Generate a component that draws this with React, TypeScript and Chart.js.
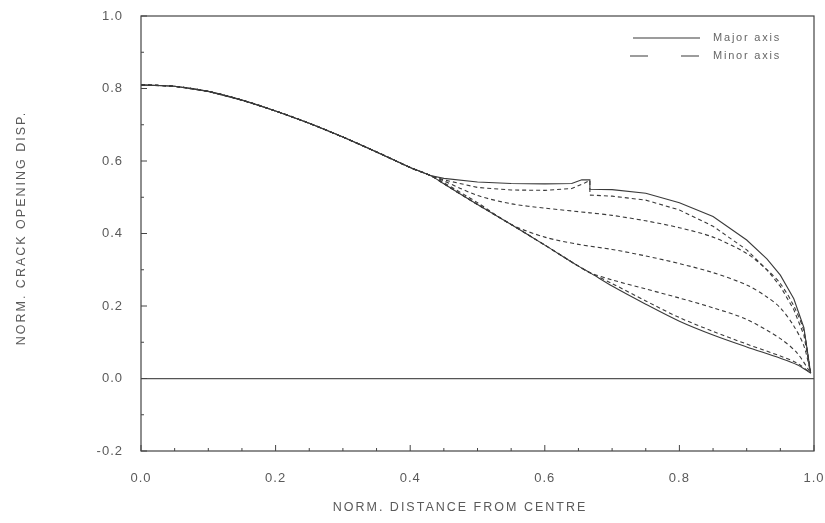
import React, { useEffect, useRef } from "react";
import { Chart, registerables } from "chart.js";

Chart.register(...registerables);

// Shared part of all profiles (centre region)
const commonX = [0, 0.05, 0.1, 0.15, 0.2, 0.25, 0.3, 0.35, 0.4];
const commonY = [0.81, 0.806, 0.792, 0.768, 0.738, 0.704, 0.666, 0.625, 0.582];

// Major axis – upper profile (solid, with step at 0.667)
const majorUpperX = [0.43, 0.45, 0.5, 0.55, 0.6, 0.64, 0.655, 0.667, 0.667, 0.7, 0.75, 0.8, 0.85, 0.9, 0.93, 0.95, 0.97, 0.985, 0.995];
const majorUpperY = [0.56, 0.552, 0.542, 0.538, 0.537, 0.538, 0.548, 0.548, 0.522, 0.521, 0.511, 0.485, 0.447, 0.382, 0.33, 0.285, 0.22, 0.14, 0.015];

// Minor axis – upper profile (dashed)
const minorUpperX = [0.43, 0.45, 0.5, 0.55, 0.6, 0.64, 0.66, 0.667, 0.667, 0.7, 0.75, 0.8, 0.85, 0.9, 0.93, 0.95, 0.97, 0.985, 0.995];
const minorUpperY = [0.56, 0.548, 0.527, 0.52, 0.519, 0.524, 0.54, 0.546, 0.506, 0.503, 0.492, 0.465, 0.42, 0.355, 0.3, 0.254, 0.19, 0.12, 0.015];

// Minor axis – second profile (dashed)
const minor2X = [0.43, 0.45, 0.5, 0.55, 0.6, 0.667, 0.7, 0.75, 0.8, 0.85, 0.9, 0.93, 0.95, 0.97, 0.985, 0.995];
const minor2Y = [0.56, 0.545, 0.505, 0.482, 0.47, 0.457, 0.45, 0.435, 0.416, 0.39, 0.345, 0.3, 0.262, 0.2, 0.13, 0.015];

// Minor axis – third profile (dashed)
const minor3X = [0.43, 0.45, 0.5, 0.55, 0.6, 0.65, 0.7, 0.75, 0.8, 0.85, 0.9, 0.93, 0.95, 0.97, 0.985, 0.995];
const minor3Y = [0.56, 0.54, 0.485, 0.425, 0.39, 0.37, 0.356, 0.338, 0.317, 0.292, 0.258, 0.225, 0.195, 0.145, 0.09, 0.015];

// Lower profiles
const lowerX = [0.43, 0.45, 0.5, 0.55, 0.6, 0.65, 0.667];
const lowerY = [0.56, 0.537, 0.48, 0.425, 0.368, 0.31, 0.292];

const majorLowerTailX = [0.7, 0.75, 0.8, 0.85, 0.9, 0.95, 0.975, 0.995];
const majorLowerTailY = [0.255, 0.205, 0.158, 0.12, 0.087, 0.056, 0.038, 0.015];

const minorLowerTailX = [0.7, 0.75, 0.8, 0.85, 0.9, 0.95, 0.975, 0.995];
const minorLowerTailY = [0.262, 0.214, 0.168, 0.13, 0.095, 0.062, 0.042, 0.015];

const minorLower2TailX = [0.7, 0.75, 0.8, 0.85, 0.9, 0.95, 0.975, 0.995];
const minorLower2TailY = [0.272, 0.247, 0.222, 0.195, 0.163, 0.11, 0.07, 0.015];

const xTicks = [0, 0.2, 0.4, 0.6, 0.8, 1.0];
const yTicks = [-0.2, 0, 0.2, 0.4, 0.6, 0.8, 1.0];

const legendLabels = ["Major axis", "Minor axis"];
const xTitle = "NORM. DISTANCE FROM CENTRE";
const yTitle = "NORM. CRACK OPENING DISP.";

const LINE = "#3a3a3a";
const TEXT = "#5a5a5a";
const FONT = "'Liberation Sans', Arial, sans-serif";

function pts(xs: number[], ys: number[]) {
  return xs.map((x, i) => ({ x, y: ys[i] }));
}

const framePlugin = {
  id: "frame",
  beforeDraw(chart: any) {
    chart.ctx.letterSpacing = "1px";
  },
  afterDraw(chart: any) {
    const { ctx, chartArea: a, scales } = chart;
    const xs = scales.x;
    const ys = scales.y;
    ctx.save();
    ctx.letterSpacing = "0px";
    // box
    ctx.strokeStyle = "#444";
    ctx.lineWidth = 1.2;
    ctx.setLineDash([]);
    ctx.strokeRect(a.left, a.top, a.right - a.left, a.bottom - a.top);
    // inward ticks
    ctx.lineWidth = 1;
    for (let i = 0; i <= 20; i++) {
      const v = i * 0.05;
      const px = xs.getPixelForValue(v);
      const len = i % 4 === 0 ? 6 : 3;
      ctx.beginPath();
      ctx.moveTo(px, a.bottom);
      ctx.lineTo(px, a.bottom - len);
      ctx.stroke();
    }
    for (let i = 0; i <= 12; i++) {
      const v = -0.2 + i * 0.1;
      const py = ys.getPixelForValue(v);
      const len = i % 2 === 0 ? 6 : 3;
      ctx.beginPath();
      ctx.moveTo(a.left, py);
      ctx.lineTo(a.left + len, py);
      ctx.stroke();
    }
    // legend
    ctx.strokeStyle = LINE;
    ctx.lineWidth = 1.1;
    ctx.beginPath();
    ctx.moveTo(633, 38);
    ctx.lineTo(700, 38);
    ctx.stroke();
    ctx.setLineDash([18, 33]);
    ctx.beginPath();
    ctx.moveTo(630, 56);
    ctx.lineTo(700, 56);
    ctx.stroke();
    ctx.setLineDash([]);
    ctx.fillStyle = "#666";
    ctx.font = `11px ${FONT}`;
    ctx.letterSpacing = "1.8px";
    ctx.textAlign = "left";
    ctx.textBaseline = "middle";
    ctx.fillText(legendLabels[0], 713, 38);
    ctx.fillText(legendLabels[1], 713, 56);
    // axis titles
    ctx.fillStyle = TEXT;
    ctx.font = `12.5px ${FONT}`;
    ctx.letterSpacing = "2px";
    ctx.textAlign = "center";
    ctx.fillText(xTitle, 460, 508);
    ctx.translate(22, 228);
    ctx.rotate(-Math.PI / 2);
    ctx.fillText(yTitle, 0, 0);
    ctx.restore();
    ctx.letterSpacing = "0px";
  },
};

export default function App() {
  const ref = useRef<HTMLCanvasElement | null>(null);
  useEffect(() => {
    if (!ref.current) return;
    const solid = { borderColor: LINE, borderWidth: 1.1, pointRadius: 0, showLine: true, tension: 0.3, fill: false };
    const dashed = { ...solid, borderDash: [4, 3] };
    const chart = new Chart(ref.current, {
      type: "scatter",
      data: {
        datasets: [
          { label: legendLabels[0], data: pts([...commonX, ...majorUpperX], [...commonY, ...majorUpperY]), ...solid, tension: 0 },
          { label: legendLabels[1], data: pts([...commonX, ...minorUpperX], [...commonY, ...minorUpperY]), ...dashed, tension: 0 },
          { label: legendLabels[1], data: pts([...commonX, ...minor2X], [...commonY, ...minor2Y]), ...dashed },
          { label: legendLabels[1], data: pts([...commonX, ...minor3X], [...commonY, ...minor3Y]), ...dashed },
          { label: legendLabels[0], data: pts([...commonX, ...lowerX, ...majorLowerTailX], [...commonY, ...lowerY, ...majorLowerTailY]), ...solid },
          { label: legendLabels[1], data: pts([...commonX, ...lowerX, ...minorLowerTailX], [...commonY, ...lowerY, ...minorLowerTailY]), ...dashed },
          { label: legendLabels[1], data: pts([...commonX, ...lowerX, ...minorLower2TailX], [...commonY, ...lowerY, ...minorLower2TailY]), ...dashed },
        ],
      },
      options: {
        animation: false,
        responsive: true,
        maintainAspectRatio: false,
        layout: { padding: { top: 16, right: 11, left: 0, bottom: 0 } },
        plugins: { legend: { display: false }, tooltip: { enabled: false } },
        scales: {
          x: {
            type: "linear",
            min: 0,
            max: 1,
            afterFit: (s: any) => { s.height = 72; s.paddingLeft = 0; s.paddingRight = 0; },
            afterBuildTicks: (s: any) => { s.ticks = xTicks.map((v) => ({ value: v })); },
            border: { display: false },
            grid: { display: false, drawTicks: false },
            ticks: { padding: 20, color: TEXT, font: { family: FONT, size: 13 }, callback: (v: any) => Number(v).toFixed(1) },
          },
          y: {
            type: "linear",
            min: -0.2,
            max: 1,
            afterFit: (s: any) => { s.width = 141; s.paddingTop = 0; s.paddingBottom = 0; },
            afterBuildTicks: (s: any) => { s.ticks = yTicks.map((v) => ({ value: v })); },
            border: { display: false },
            grid: {
              drawTicks: false,
              color: (c: any) => (c.tick && Math.abs(c.tick.value) < 1e-9 ? "#555" : "rgba(0,0,0,0)"),
              lineWidth: 1.2,
            },
            ticks: { padding: 18, color: TEXT, font: { family: FONT, size: 13 }, callback: (v: any) => Number(v).toFixed(1) },
          },
        },
      },
      plugins: [framePlugin],
    });
    return () => chart.destroy();
  }, []);
  return (
    <div style={{ position: "absolute", left: 0, top: 0, width: 825, height: 523, background: "#fff" }}>
      <canvas ref={ref} />
    </div>
  );
}
